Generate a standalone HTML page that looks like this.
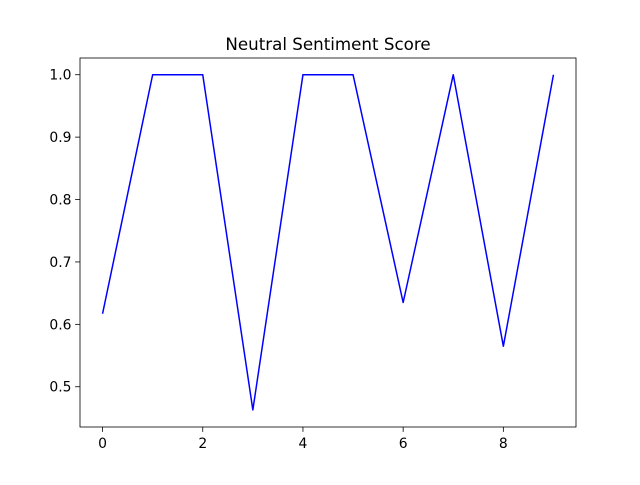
<!DOCTYPE html>
<html><head><meta charset="utf-8"><style>
body{margin:0;background:#fff;}
svg text{font-family:"DejaVu Sans","Liberation Sans",sans-serif;}
</style></head><body>
<svg id="chart" width="640" height="480" viewBox="0 0 640 480" xmlns="http://www.w3.org/2000/svg">
<rect width="640" height="480" fill="#fff"/>
<text x="328" y="50" text-anchor="middle" font-size="16.7">Neutral Sentiment Score</text>
<g id="plot"></g>
</svg>
<script>
const xValues = [0,1,2,3,4,5,6,7,8,9];
const yValues = [0.617,1,1,0.463,1,1,0.635,1,0.565,1];
const xTicks = [0,2,4,6,8];
const yTicks = [0.5,0.6,0.7,0.8,0.9,1.0];
const L=80,R=576,T=58,B=427;
const xMin=-0.45,xMax=9.45;
const yMin=0.4355,yMax=1.0268;
const sx=v=>L+(v-xMin)/(xMax-xMin)*(R-L);
const sy=v=>B-(v-yMin)/(yMax-yMin)*(B-T);
const NS="http://www.w3.org/2000/svg";
const g=document.getElementById('plot');
function mk(t,a){const e=document.createElementNS(NS,t);for(const k in a)e.setAttribute(k,a[k]);g.appendChild(e);return e;}
const d=xValues.map((x,i)=>(i?'L':'M')+sx(x).toFixed(2)+','+sy(yValues[i]).toFixed(2)).join(' ');
const line=mk('path',{d:d,fill:'none',stroke:'#0000ff','stroke-width':1.5,'stroke-linejoin':'round'});


xTicks.forEach(t=>{
  const tk=mk('line',{x1:sx(t),x2:sx(t),y1:B,y2:B+4.9,stroke:'#000','stroke-width':0.8});
  
  
  const lb=mk('text',{x:sx(t),y:B+21,'text-anchor':'middle','font-size':13.9});
  lb.textContent=t;
  
  
});
yTicks.forEach(t=>{
  const tk=mk('line',{x1:L-4.9,x2:L,y1:sy(t),y2:sy(t),stroke:'#000','stroke-width':0.8});
  
  
  const lb=mk('text',{x:L-8.5,y:sy(t)+5,'text-anchor':'end','font-size':13.9});
  lb.textContent=t.toFixed(1);
  
  
});
const fr=mk('rect',{x:L,y:T,width:R-L,height:B-T,fill:'none',stroke:'#000','stroke-width':0.8});


</script>
</body></html>
